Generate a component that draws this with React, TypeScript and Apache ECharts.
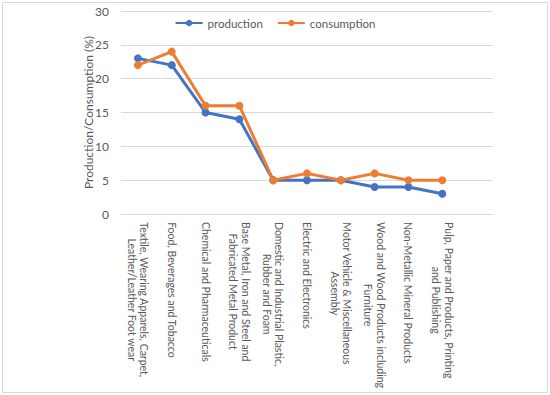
import React, { useEffect, useRef } from "react";
import * as echarts from "echarts";

const categories: string[] = [
  "Textile, Wearing Apparels, Carpet,\nLeather/Leather Foot wear",
  "Food, Beverages and Tobacco",
  "Chemical and Pharmaceuticals",
  "Base Metal, Iron and Steel and\nFabricated Metal Product",
  "Domestic and Industrial Plastic,\nRubber and Foam",
  "Electric and Electronics",
  "Motor Vehicle & Miscellaneous\nAssembly",
  "Wood and Wood Products including\nFurniture",
  "Non-Metallic Mineral Products",
  "Pulp, Paper and Products, Printing\nand Publishing",
  "",
];

const production: (number | null)[] = [23, 22, 15, 14, 5, 5, 5, 4, 4, 3, null];
const consumption: (number | null)[] = [22, 24, 16, 16, 5, 6, 5, 6, 5, 5, null];

const seriesNames = ["production", "consumption"];
const yAxisTitle = "Production/Consumption (%)";

const FONT = "Lato";
const TEXT = "#595959";
const GRID = "#D9D9D9";

export default function App() {
  const ref = useRef<HTMLDivElement>(null);
  useEffect(() => {
    const chart = echarts.init(ref.current!, null, { renderer: "svg" });
    chart.setOption({
      animation: false,
      backgroundColor: "#ffffff",
      textStyle: { fontFamily: FONT, color: TEXT },
      graphic: [
        {
          type: "rect",
          shape: { x: 2.5, y: 2.5, width: 545, height: 390 },
          style: { fill: "none", stroke: GRID, lineWidth: 1 },
          silent: true,
        },
      ],
      legend: {
        data: seriesNames,
        top: 12,
        left: "center",
        itemWidth: 27,
        itemHeight: 8,
        itemGap: 14,
        textStyle: { fontSize: 11.5, color: TEXT, fontFamily: FONT },
      },
      grid: { left: 121, right: 57, top: 11, bottom: 181, containLabel: false },
      xAxis: {
        type: "category",
        data: categories,
        boundaryGap: true,
        axisLine: { show: true, lineStyle: { color: GRID, width: 1 } },
        axisTick: { show: false },
        splitLine: { show: false },
        axisLabel: {
          interval: 0,
          rotate: -90,
          margin: 8,
          hideOverlap: false,
          fontSize: 10.5,
          color: TEXT,
          fontFamily: FONT,
          formatter: (v: string) =>
            v
              .split("\n")
              .map((l) => `{c|${l}}`)
              .join("\n"),
          rich: {
            c: {
              align: "center",
              fontSize: 10.5,
              lineHeight: 12.6,
              color: TEXT,
              fontFamily: FONT,
            },
          },
        },
      },
      yAxis: {
        type: "value",
        min: 0,
        max: 30,
        interval: 5,
        axisLine: { show: false },
        axisTick: { show: false },
        splitLine: { show: true, lineStyle: { color: GRID, width: 1 } },
        axisLabel: { margin: 12, fontSize: 12, color: TEXT, fontFamily: FONT },
        name: yAxisTitle,
        nameLocation: "middle",
        nameGap: 27,
        nameMoveOverlap: false,
        nameTextStyle: { fontSize: 12, color: TEXT, fontFamily: FONT },
      },
      series: [
        {
          name: seriesNames[0],
          type: "line",
          data: production,
          symbol: "circle",
          symbolSize: 8,
          color: "#4472C4",
          lineStyle: { width: 3, color: "#4472C4" },
          itemStyle: { color: "#4472C4" },
        },
        {
          name: seriesNames[1],
          type: "line",
          data: consumption,
          symbol: "circle",
          symbolSize: 8,
          color: "#ED7D31",
          lineStyle: { width: 3, color: "#ED7D31" },
          itemStyle: { color: "#ED7D31" },
        },
      ],
    });
    return () => chart.dispose();
  }, []);
  return (
    <div
      ref={ref}
      style={{ position: "absolute", left: 0, top: 0, width: 550, height: 395, background: "#fff" }}
    />
  );
}
